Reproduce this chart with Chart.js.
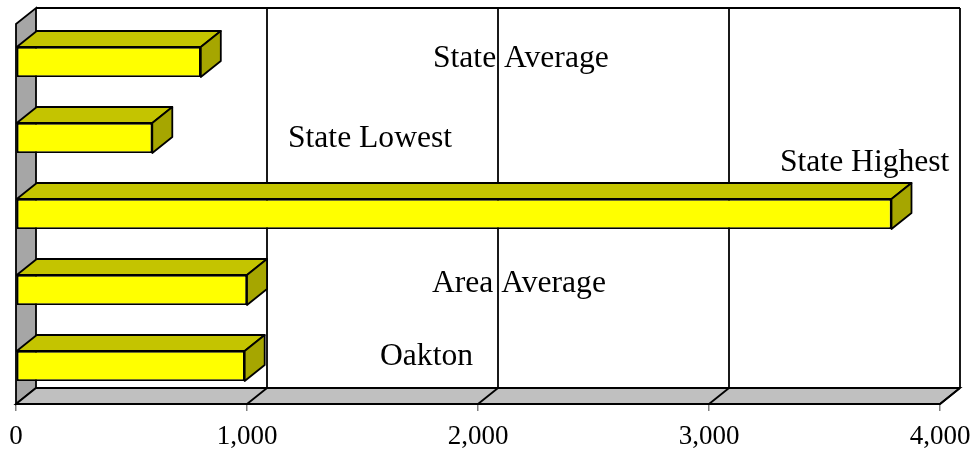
<!DOCTYPE html>
<html>
<head>
<meta charset="utf-8">
<script src="https://cdn.jsdelivr.net/npm/chart.js@4.4.1/dist/chart.umd.min.js"></script>
<style>
html, body { margin: 0; padding: 0; background: #fff; }
#wrap { width: 972px; height: 449px; }
</style>
</head>
<body>
<div id="wrap"><canvas id="barChart" width="972" height="449"></canvas></div>
<script>
// chart data
const categories = ['State Average', 'State Lowest', 'State Highest', 'Area Average', 'Oakton'];
const values = [800, 590, 3790, 1000, 990];
const tickValues = [0, 1000, 2000, 3000, 4000];

const DX = 20, DY = -16; // depth of the fake 3d box

// where the category names sit inside the plot (pixels, left/baseline)
const labelSpots = [
    { x: 433, y: 67 },
    { x: 288, y: 147 },
    { x: 780, y: 171 },
    { x: 432, y: 292 },
    { x: 380, y: 365 }
];

function poly(ctx, pts, fill) {
    ctx.beginPath();
    ctx.moveTo(pts[0][0], pts[0][1]);
    for (let i = 1; i < pts.length; i++) ctx.lineTo(pts[i][0], pts[i][1]);
    ctx.closePath();
    if (fill) { ctx.fillStyle = fill; ctx.fill(); }
    ctx.stroke();
}

function line(ctx, x1, y1, x2, y2) {
    ctx.beginPath();
    ctx.moveTo(x1, y1);
    ctx.lineTo(x2, y2);
    ctx.stroke();
}

const box3d = {
    id: 'box3d',
    beforeDatasetsDraw(chart) {
        const { ctx, chartArea: a } = chart;
        const x = chart.scales.x;
        ctx.save();
        ctx.strokeStyle = '#000';
        ctx.lineWidth = 1.8;
        // left side wall
        poly(ctx, [[a.left, a.top], [a.left + DX, a.top + DY], [a.left + DX, a.bottom + DY], [a.left, a.bottom]], '#a6a6a6');
        // floor
        poly(ctx, [[a.left, a.bottom], [a.left + DX, a.bottom + DY], [a.right + DX, a.bottom + DY], [a.right, a.bottom]], '#c0c0c0');
        // back wall top edge
        line(ctx, a.left + DX, a.top + DY, a.right + DX, a.top + DY);
        // gridlines on back wall + floor
        tickValues.forEach(v => {
            if (v === 0) return;
            const px = x.getPixelForValue(v);
            line(ctx, px + DX, a.top + DY, px + DX, a.bottom + DY);
            line(ctx, px + DX, a.bottom + DY, px, a.bottom);
        });
        ctx.restore();
    },
    afterDatasetsDraw(chart) {
        const { ctx } = chart;
        const meta = chart.getDatasetMeta(0);
        ctx.save();
        ctx.strokeStyle = '#000';
        ctx.lineWidth = 1.8;
        ctx.lineJoin = 'round';
        meta.data.forEach(bar => {
            const p = bar.getProps(['x', 'y', 'base', 'height'], true);
            const top = p.y - p.height / 2;
            const bottom = p.y + p.height / 2;
            // top face
            poly(ctx, [[p.base, top], [p.base + DX, top + DY], [p.x + DX, top + DY], [p.x, top]], '#c4c400');
            // end face
            poly(ctx, [[p.x, top], [p.x + DX, top + DY], [p.x + DX, bottom + DY], [p.x, bottom]], '#a6a600');
        });
        ctx.restore();
    },
    afterDraw(chart) {
        const { ctx } = chart;
        ctx.save();
        ctx.font = '31.6px "Liberation Serif"';
        ctx.fillStyle = '#000';
        ctx.textAlign = 'left';
        ctx.textBaseline = 'alphabetic';
        categories.forEach((name, i) => {
            ctx.fillText(name, labelSpots[i].x, labelSpots[i].y);
        });
        ctx.restore();
    }
};

function drawChart() {
    const ctx = document.getElementById('barChart').getContext('2d');
    new Chart(ctx, {
        type: 'bar',
        data: {
            labels: categories,
            datasets: [{
                data: values,
                backgroundColor: '#ffff00',
                borderColor: '#000',
                borderWidth: 1.8,
                borderSkipped: false,
                categoryPercentage: 1,
                barPercentage: 0.395
            }]
        },
        options: {
            indexAxis: 'y',
            responsive: false,
            animation: false,
            devicePixelRatio: 1,
            layout: { padding: { left: 16, right: 32, top: 24, bottom: 0 } },
            plugins: {
                legend: { display: false },
                tooltip: { enabled: false }
            },
            scales: {
                x: {
                    type: 'linear',
                    min: 0,
                    max: 4000,
                    afterBuildTicks: scale => { scale.ticks = tickValues.map(v => ({ value: v })); },
                    afterFit: scale => {
                        scale.height = 45;
                        scale.paddingLeft = 0;
                        scale.paddingRight = 0;
                    },
                    border: { display: false },
                    grid: {
                        drawOnChartArea: false,
                        drawTicks: true,
                        tickLength: 7,
                        color: '#808080',
                        lineWidth: 1.5
                    },
                    ticks: {
                        padding: 10,
                        color: '#000',
                        maxRotation: 0,
                        font: { family: '"Liberation Serif"', size: 27 },
                        callback: v => v.toLocaleString('en-US')
                    }
                },
                y: {
                    type: 'category',
                    display: false
                }
            }
        },
        plugins: [box3d]
    });
}

document.fonts.load('31px "Liberation Serif"').then(drawChart, drawChart);
</script>
</body>
</html>
